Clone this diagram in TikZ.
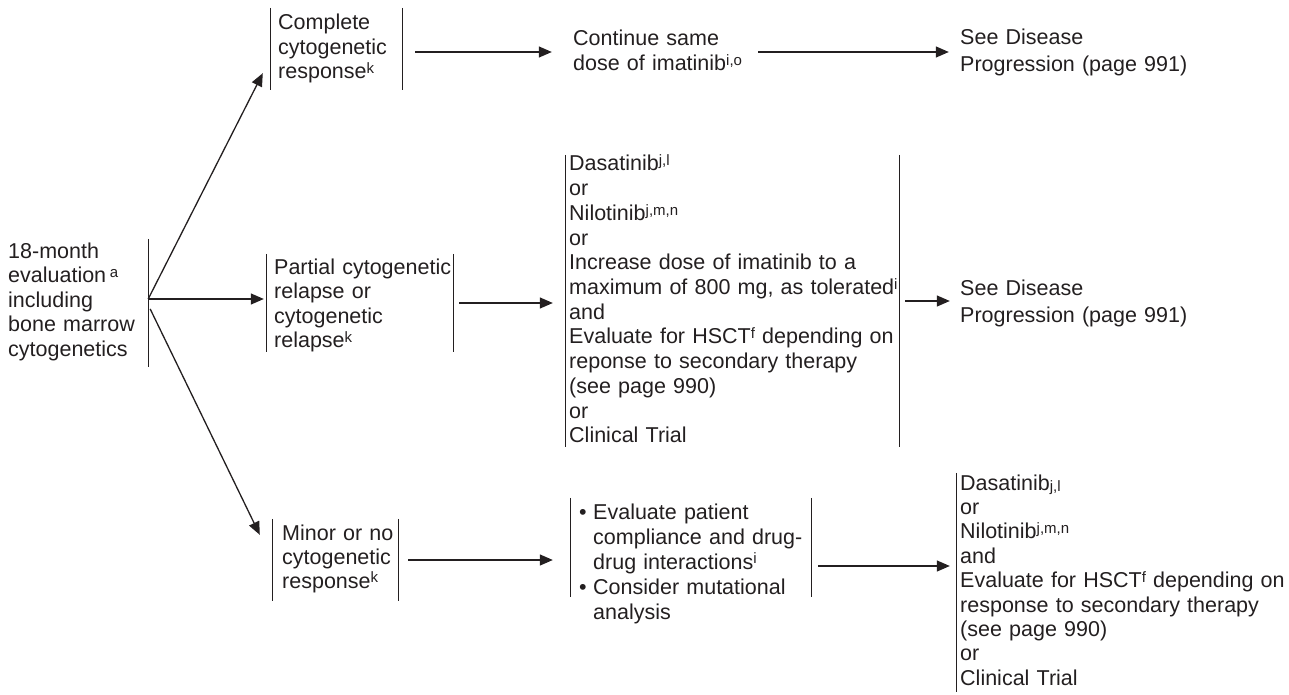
\documentclass[tikz,border=0pt]{standalone}
\usepackage{fontspec}
\setmainfont{Liberation Sans}
\usetikzlibrary{arrows.meta}
\definecolor{ink}{RGB}{35,31,32}
\newcommand\myfs[1]{\fontsize{21.5}{#1}\selectfont}
\newcommand\sps[1]{\raisebox{0.45ex}{\fontsize{15}{15}\selectfont #1}}
\newcommand\sbs[1]{\raisebox{-0.15ex}{\fontsize{15}{15}\selectfont #1}}
\begin{document}
\begin{tikzpicture}[x=1pt,y=-1pt,
  frame/.style={draw=none, inner sep=0pt},
  txt/.style={anchor=base west, inner sep=0pt, text width=400pt, align=left, text=ink},
  bar/.style={draw=ink, line width=1.3pt},
  arr/.style={draw=ink, line width=1.3pt, -{Triangle[length=13pt,width=11pt]}}]
\useasboundingbox (0,0) rectangle (1289,695);
% frames
\node[frame, minimum width=140pt, minimum height=128pt] (fA) at (78,303) {};
\node[frame, minimum width=131pt, minimum height=82pt] (fB) at (336.5,49) {};
\node[frame, minimum width=186pt, minimum height=98pt] (fC) at (360,303) {};
\node[frame, minimum width=333pt, minimum height=292pt] (fD) at (732.5,301) {};
\node[frame, minimum width=125pt, minimum height=82pt] (fE) at (335.5,560) {};
\node[frame, minimum width=240pt, minimum height=99pt] (fF) at (691,547.5) {};
\node[frame, minimum width=300pt, minimum height=219pt] (fG) at (1107,582.5) {};
\node[frame, minimum width=134pt, minimum height=48pt] (fCont) at (640,52) {};
\node[frame, minimum width=190pt, minimum height=48pt] (fS1) at (1055,52) {};
\node[frame, minimum width=190pt, minimum height=48pt] (fS2) at (1055,301) {};
% bars
\draw[bar] (fA.north east) -- (fA.south east);
\foreach \f in {fB,fC,fD,fE,fF}{\draw[bar] (\f.north west) -- (\f.south west) (\f.north east) -- (\f.south east);}
\draw[bar] (fG.north west) -- (fG.south west);
% texts
\node[txt, font=\myfs{24.5}] (tA) at (8,258) {18-month\\evaluation\,\sps{a}\\including\\bone marrow\\cytogenetics};
\node[txt, font=\myfs{24.5}] (tB) at (278,30) {Complete\\cytogenetic\\response\sps{k}};
\node[txt, font=\myfs{25}] (tCont) at (573,46) {Continue same\\dose of imatinib\sps{i,o}};
\node[txt, font=\myfs{27}] (tS1) at (960,45) {See Disease\\Progression (page 991)};
\node[txt, font=\myfs{24.5}] (tC) at (274,274) {Partial cytogenetic\\relapse or\\cytogenetic\\relapse\sps{k}};
\node[txt, font=\myfs{24.7}] (tD) at (569,171) {Dasatinib\sps{j,l}\\or\\Nilotinib\sps{j,m,n}\\or\\Increase dose of imatinib to a\\maximum of 800 mg, as tolerated\sps{i}\\and\\Evaluate for HSCT\sps{f} depending on\\reponse to secondary therapy\\(see page 990)\\or\\Clinical Trial};
\node[txt, font=\myfs{27}] (tS2) at (960,295) {See Disease\\Progression (page 991)};
\node[txt, font=\myfs{24}] (tE) at (282,540) {Minor or no\\cytogenetic\\response\sps{k}};
\node[txt, font=\myfs{25}] (tF) at (579,519) {\makebox[14pt][l]{\textbullet}Evaluate patient\\\hspace*{14pt}compliance and drug-\\\hspace*{14pt}drug interactions\sps{i}\\\makebox[14pt][l]{\textbullet}Consider mutational\\\hspace*{14pt}analysis};
\node[txt, font=\myfs{24.4}] (tG) at (960,490) {Dasatinib\sbs{j,l}\\or\\Nilotinib\sps{j,m,n}\\and\\Evaluate for HSCT\sps{f} depending on\\response to secondary therapy\\(see page 990)\\or\\Clinical Trial};
% arrows
\draw[arr] ([yshift=4pt]fA.east) -- ([xshift=-8pt,yshift=17pt]fB.south west);
\draw[arr] ([yshift=4pt]fA.east) -- ([xshift=-3pt,yshift=4pt]fC.west);
\draw[arr] ([xshift=2pt,yshift=-6pt]fA.east) -- ([xshift=-13pt,yshift=-16pt]fE.north west);
\draw[arr] ([xshift=13pt,yshift=-3pt]fB.east) -- ([xshift=-21pt]fCont.west);
\draw[arr] ([xshift=51pt]fCont.east) -- ([xshift=-11pt]fS1.west);
\draw[arr] ([xshift=6pt]fC.east) -- ([xshift=-13pt,yshift=-2pt]fD.west);
\draw[arr] ([xshift=6pt]fD.east) -- ([xshift=-10pt]fS2.west);
\draw[arr] ([xshift=10pt]fE.east) -- ([xshift=-18pt,yshift=-12.5pt]fF.west);
\draw[arr] ([xshift=7pt,yshift=-18.5pt]fF.east) -- ([xshift=-7pt,yshift=16.5pt]fG.west);
\end{tikzpicture}
\end{document}
